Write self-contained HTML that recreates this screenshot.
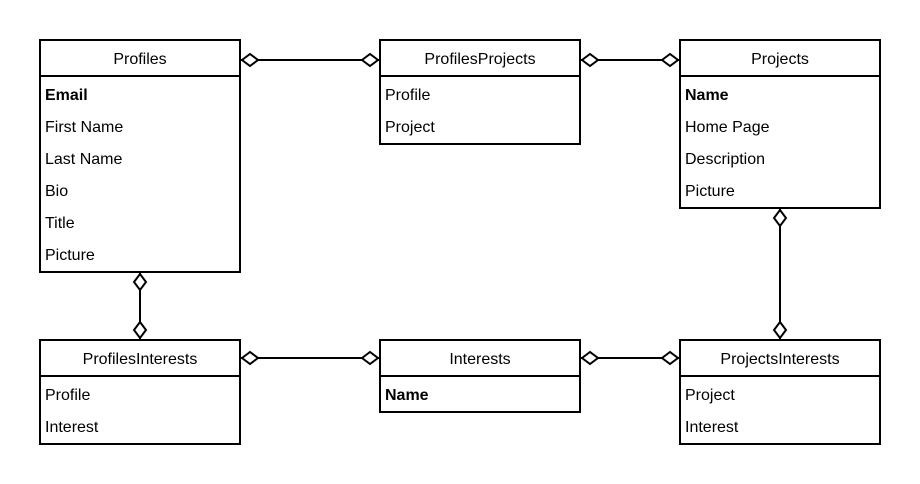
<!DOCTYPE html>
<html><head><style>body{margin:0;background:#fff}svg{display:block}</style></head><body>
<svg width="920" height="484" xmlns="http://www.w3.org/2000/svg" font-family="Liberation Sans, Arial, sans-serif" font-size="16">
<rect width="920" height="484" fill="#fff"/>
<g stroke="#000" stroke-width="2" fill="none">
<line x1="240" y1="60" x2="380" y2="60"/>
<line x1="580" y1="60" x2="680" y2="60"/>
<line x1="780" y1="208" x2="780" y2="340"/>
<line x1="140" y1="272" x2="140" y2="340"/>
<line x1="240" y1="358" x2="380" y2="358"/>
<line x1="580" y1="358" x2="680" y2="358"/>
</g>
<g stroke="#000" stroke-width="2" fill="#fff">
<rect x="40" y="40" width="200" height="232"/><line x1="40" y1="76" x2="240" y2="76"/>
<rect x="380" y="40" width="200" height="104"/><line x1="380" y1="76" x2="580" y2="76"/>
<rect x="680" y="40" width="200" height="168"/><line x1="680" y1="76" x2="880" y2="76"/>
<rect x="40" y="340" width="200" height="104"/><line x1="40" y1="376" x2="240" y2="376"/>
<rect x="380" y="340" width="200" height="72"/><line x1="380" y1="376" x2="580" y2="376"/>
<rect x="680" y="340" width="200" height="104"/><line x1="680" y1="376" x2="880" y2="376"/>
<!-- diamonds horizontal -->
<path d="M242 60 l8 -6 l8 6 l-8 6z"/><path d="M362 60 l8 -6 l8 6 l-8 6z"/>
<path d="M582 60 l8 -6 l8 6 l-8 6z"/><path d="M662 60 l8 -6 l8 6 l-8 6z"/>
<path d="M242 358 l8 -6 l8 6 l-8 6z"/><path d="M362 358 l8 -6 l8 6 l-8 6z"/>
<path d="M582 358 l8 -6 l8 6 l-8 6z"/><path d="M662 358 l8 -6 l8 6 l-8 6z"/>
<!-- vertical -->
<path d="M780 210 l6 8 l-6 8 l-6 -8z"/><path d="M780 322 l6 8 l-6 8 l-6 -8z"/>
<path d="M140 274 l6 8 l-6 8 l-6 -8z"/><path d="M140 322 l6 8 l-6 8 l-6 -8z"/>
</g>
<g fill="#000" text-anchor="middle">
<text x="140" y="64">Profiles</text>
<text x="480" y="64">ProfilesProjects</text>
<text x="780" y="64">Projects</text>
<text x="140" y="364">ProfilesInterests</text>
<text x="480" y="364">Interests</text>
<text x="780" y="364">ProjectsInterests</text>
</g>
<g fill="#000">
<text x="45" y="100" font-weight="bold">Email</text>
<text x="45" y="132">First Name</text>
<text x="45" y="164">Last Name</text>
<text x="45" y="196">Bio</text>
<text x="45" y="228">Title</text>
<text x="45" y="260">Picture</text>
<text x="385" y="100">Profile</text>
<text x="385" y="132">Project</text>
<text x="685" y="100" font-weight="bold">Name</text>
<text x="685" y="132">Home Page</text>
<text x="685" y="164">Description</text>
<text x="685" y="196">Picture</text>
<text x="45" y="400">Profile</text>
<text x="45" y="432">Interest</text>
<text x="385" y="400" font-weight="bold">Name</text>
<text x="685" y="400">Project</text>
<text x="685" y="432">Interest</text>
</g>
</svg>
</body></html>
